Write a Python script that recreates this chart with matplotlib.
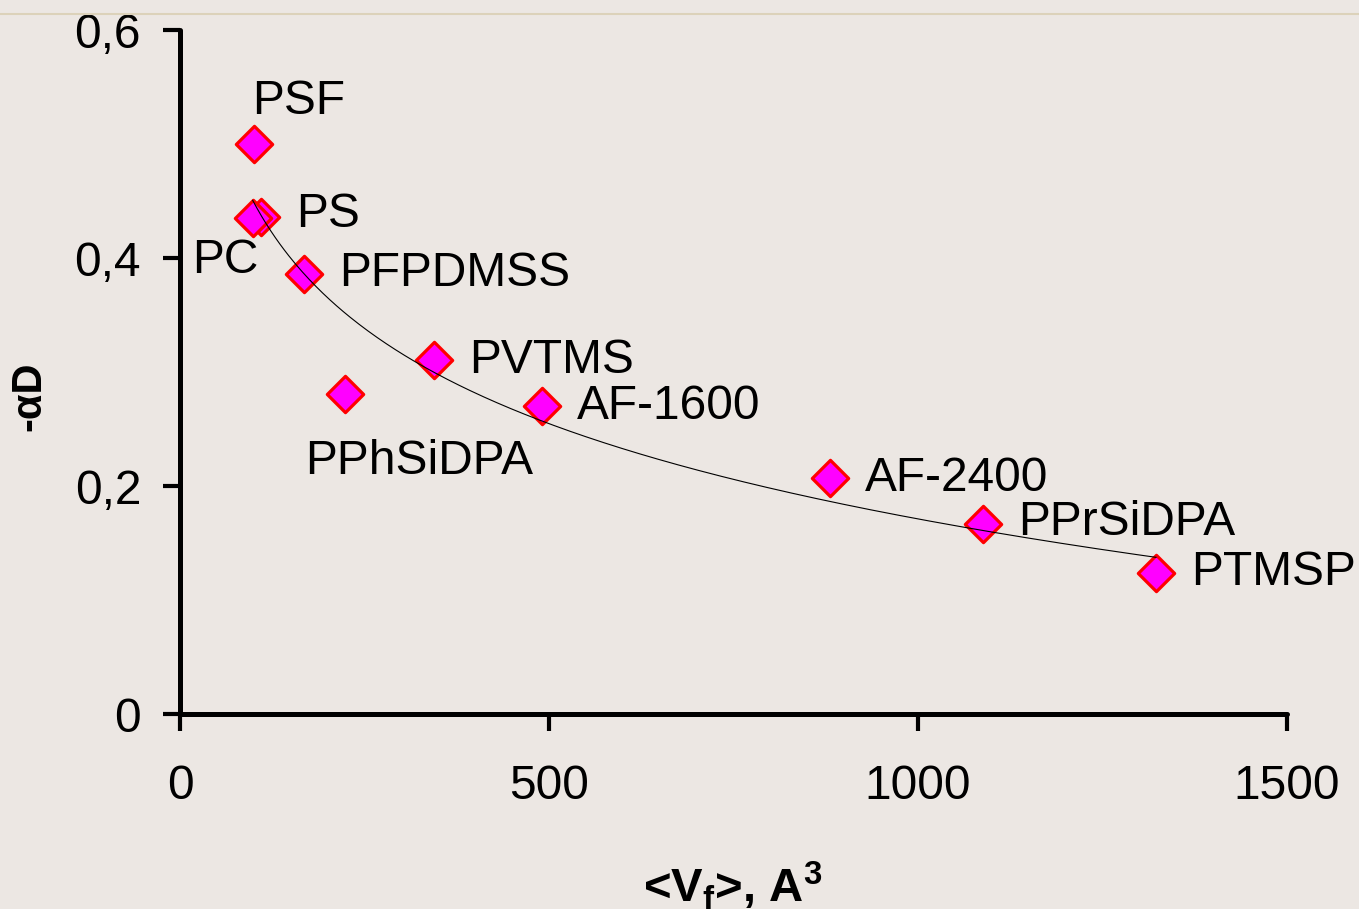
import numpy as np
import matplotlib
matplotlib.use("Agg")
import matplotlib.pyplot as plt
from matplotlib.lines import Line2D

plt.rcParams['font.family'] = ['Liberation Sans', 'DejaVu Sans']
plt.rcParams['mathtext.default'] = 'regular'

# Polymers: mean free-volume element size vs. -alpha_D
polymers = ['PSF', 'PS', 'PC', 'PFPDMSS', 'PPhSiDPA', 'PVTMS',
            'AF-1600', 'AF-2400', 'PPrSiDPA', 'PTMSP']
vf = [100, 110, 98.5, 168.5, 223.6, 344, 490, 880.8, 1087.7, 1322.5]
alpha_d = [0.500, 0.436, 0.435, 0.386, 0.281, 0.3105, 0.270, 0.2067, 0.1667, 0.124]

# label offsets in pixels (dx, dy, ha)
label_pos = {
    'PSF': (-2, 42, 'left'),
    'PS': (35, 2, 'left'),
    'PC': (6, -42, 'right'),
    'PFPDMSS': (35, 0, 'left'),
    'PPhSiDPA': (-40, -68, 'left'),
    'PVTMS': (35, 0, 'left'),
    'AF-1600': (35, 0, 'left'),
    'AF-2400': (35, 0, 'left'),
    'PPrSiDPA': (35, 1, 'left'),
    'PTMSP': (35, 0, 'left'),
}

bg = '#ECE7E3'
fig = plt.figure(figsize=(13.59, 9.09), dpi=100, facecolor=bg)
ax = fig.add_axes([180 / 1359, 1 - 714 / 909, 1107 / 1359, 684 / 909])
ax.set_facecolor(bg)

ax.scatter(vf, alpha_d, marker='D', s=18.5 ** 2, facecolor='#FF00FF',
           edgecolor='#FF0000', linewidth=2.3, zorder=3, clip_on=False)

# logarithmic trend line
lx = np.log(vf)
b, a = np.polyfit(lx, alpha_d, 1)
xs = np.linspace(min(vf), max(vf), 400)
ax.plot(xs, a + b * np.log(xs), color='black', lw=0.8, zorder=4)

for name, x, y in zip(polymers, vf, alpha_d):
    dx, dy, ha = label_pos[name]
    ax.annotate(name, (x, y), xytext=(dx, dy), textcoords='offset pixels',
                ha=ha, va='center', fontsize=34.5, color='black')

ax.set_xlim(0, 1500)
ax.set_ylim(0, 0.6)
ax.set_xticks([0, 500, 1000, 1500])
ax.set_yticks([0, 0.2, 0.4, 0.6])
ax.set_yticklabels(['0', '0,2', '0,4', '0,6'])
for s in ['top', 'right']:
    ax.spines[s].set_visible(False)
for s in ['left', 'bottom']:
    ax.spines[s].set_linewidth(3.6)
    ax.spines[s].set_capstyle('round')
ax.tick_params(axis='both', direction='out', length=12, width=3, labelsize=34.5,
               colors='black')
ax.tick_params(axis='y', pad=16)
ax.tick_params(axis='x', pad=24)

fig.text(29 / 1359, 1 - 396 / 909, '-αD', rotation=90, ha='center', va='center',
         fontsize=30, fontweight='bold')
fig.text(733 / 1359, 7 / 909, r'<V$_{f}$>, A$^{3}$', ha='center', va='baseline',
         fontsize=34, fontweight='bold')

fig.add_artist(Line2D([0, 1], [1 - 14 / 909, 1 - 14 / 909], color='#DCD2BA',
                      lw=1.5, transform=fig.transFigure))

fig.savefig('out.png', dpi=100, facecolor=bg)
